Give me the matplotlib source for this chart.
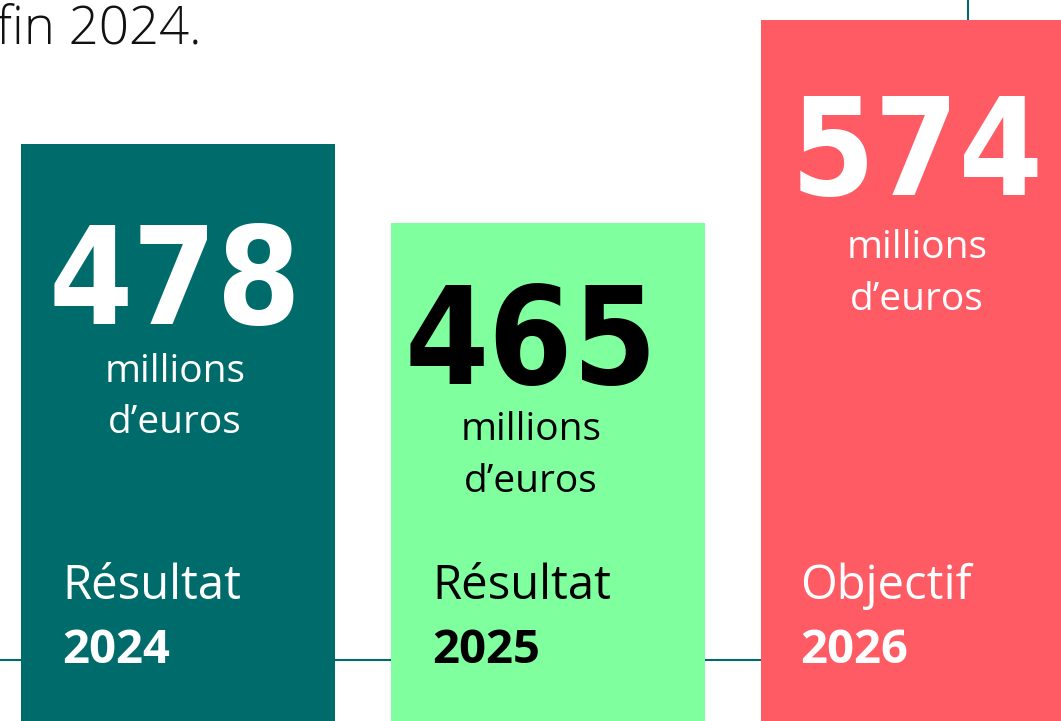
import matplotlib.pyplot as plt
from matplotlib import font_manager
from matplotlib.textpath import TextPath

# Data
labels = ["Résultat", "Résultat", "Objectif"]
years = ["2024", "2025", "2026"]
values = [478, 465, 574]
unit_lines = ["millions", "d\u2019euros"]
# bar heights as drawn (the graphic is not to scale with the values)
bar_heights = [577, 498, 701]
title_tail = "fin 2024."

bar_colors = ["#006B6B", "#80FF9F", "#FF5B64"]
text_colors = ["white", "black", "white"]
line_color = "#006B6B"


def as_num(v, table, default):
    return v if isinstance(v, (int, float)) else table.get(v, default)


def pick_condensed_bold():
    # look for the narrowest bold face that is installed
    best, best_key = None, None
    for f in font_manager.fontManager.ttflist:
        path = f.fname.lower()
        if '[' in path or 'italic' in path or 'oblique' in path:
            continue
        w = as_num(f.weight, font_manager.weight_dict, 400)
        s = as_num(f.stretch, font_manager.stretch_dict, 500)
        tag = (f.name + ' ' + path).lower()
        if 'condensed' in tag or 'narrow' in tag:
            s = min(s, 400)
        if w < 600 or s >= 500:
            continue
        key = (s, abs(w - 700))
        if best_key is None or key < best_key:
            best, best_key = f.fname, key
    if best is None:
        return font_manager.FontProperties(family='DejaVu Sans', weight='bold')
    return font_manager.FontProperties(fname=best)


big_fp = pick_condensed_bold()
body_font = "Open Sans"

# size of the big numbers: digit height about 125 px, width kept inside the bar
ext = TextPath((0, 0), "478", size=100, prop=big_fp).get_extents()
size_px = min(125 / (ext.height / 100), 240 / (ext.width / 100))
big_size = size_px * 0.72

W, H = 1061, 721
fig = plt.figure(figsize=(W / 100, H / 100), dpi=100)
ax = fig.add_axes([0, 0, 1, 1])
ax.axis('off')

# horizontal layout: bars 370 px apart, first centre at x=178 px
step = 370.0
x0 = 178.0
ax.set_xlim(-x0 / step, (W - x0) / step)
ax.set_ylim(0, H)


def px(x):
    # pixel column -> data x
    return (x - x0) / step


def py(y):
    # pixel row (from top) -> data y
    return H - y


pos = list(range(len(values)))

# baseline rule and small vertical tick behind the bars
ax.axhline(py(660), color=line_color, lw=1.5, zorder=1)
ax.plot([px(968), px(968)], [py(20), py(-5)], color=line_color, lw=1.5, zorder=1)

ax.bar(pos, bar_heights, width=314 / step, color=bar_colors, zorder=2)

# cropped heading at the top left
ax.text(px(202), py(43), title_tail, ha='right', va='baseline', fontsize=38,
        family=body_font, fontweight='light', color="#111111", zorder=3)

# text layout per bar (pixel rows of baselines, centre column)
num_base = [324, 384, 195]
unit_base = [[382, 433], [440, 492], [258, 310]]
text_cx = [175, 531, 917]
label_left = [62, 432, 800]

for i in pos:
    c = text_colors[i]
    ax.text(px(text_cx[i]), py(num_base[i]), str(values[i]), ha='center', va='baseline',
            fontproperties=big_fp, fontsize=big_size, color=c, zorder=3)
    for line, yb in zip(unit_lines, unit_base[i]):
        ax.text(px(text_cx[i]), py(yb), line, ha='center', va='baseline',
                fontsize=28, family=body_font, color=c, zorder=3)
    ax.text(px(label_left[i]), py(599), labels[i], ha='left', va='baseline',
            fontsize=34, family=body_font, color=c, zorder=3)
    ax.text(px(label_left[i]), py(663), years[i], ha='left', va='baseline',
            fontsize=34, fontweight='bold', family=body_font, color=c, zorder=3)

fig.savefig("out.png", dpi=100)
